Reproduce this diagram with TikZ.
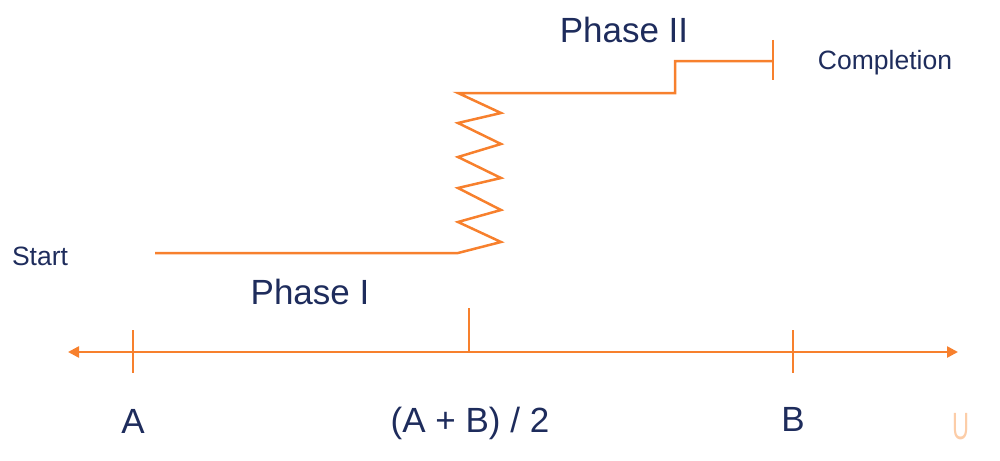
\documentclass[tikz,border=0pt]{standalone}
\usepackage{fontspec}
\setmainfont{Liberation Sans}
\usetikzlibrary{arrows.meta}
\definecolor{lineorange}{RGB}{247,128,45}
\definecolor{textnavy}{RGB}{30,44,92}
\definecolor{paleorange}{RGB}{252,205,168}
\begin{document}
\begin{tikzpicture}[x=1pt,y=-1pt,
  orangeline/.style={draw=lineorange,line width=2.5pt,line join=miter},
  bigtext/.style={text=textnavy,anchor=base,inner sep=0pt,font=\fontsize{35}{40}\selectfont},
  smalltext/.style={text=textnavy,anchor=base,inner sep=0pt,font=\fontsize{26.5}{30}\selectfont},
  tickmark/.style={draw=lineorange,line width=2.5pt}]
\useasboundingbox (0,0) rectangle (1000,460);
% axis
\coordinate (axL) at (68,352);
\coordinate (axR) at (958,352);
\draw[orangeline,{Triangle[length=11pt,width=11pt]}-{Triangle[length=11pt,width=11pt]}] (axL) -- (axR);
\coordinate (tA1) at (133,330); \coordinate (tA2) at (133,373);
\coordinate (tM1) at (469,308); \coordinate (tM2) at (469,352);
\coordinate (tB1) at (793,330); \coordinate (tB2) at (793,373);
\draw[tickmark] (tA1) -- (tA2);
\draw[tickmark] (tM1) -- (tM2);
\draw[tickmark] (tB1) -- (tB2);
% path
\coordinate (s0) at (155,253);
\coordinate (z0) at (458,253);
\coordinate (z10) at (458,93);
\coordinate (step1) at (675,93);
\coordinate (step2) at (675,61);
\coordinate (endp) at (773,61);
\coordinate (bar1) at (773,40);
\coordinate (bar2) at (773,80);
\draw[orangeline] (s0) -- (z0) -- (501,242) -- (458,222) -- (501,210) -- (458,188) -- (501,178) -- (458,157) -- (501,144) -- (458,123) -- (501,113) -- (z10) -- (step1) -- (step2) -- (endp);
\draw[tickmark] (bar1) -- (bar2);
% labels
\node[bigtext] (phI) at (310,304) {Phase I};
\node[bigtext] (phII) at (624,43) {Phase II};
\node[smalltext] (start) at (40,265) {Start};
\node[smalltext] (compl) at (885,69) {Completion};
\node[bigtext] (lA) at (133,433) {A};
\node[bigtext] (lM) at (470,432) {(A + B) / 2};
\node[bigtext] (lB) at (793,431) {B};
\node[text=paleorange,anchor=base,inner sep=0pt,font=\fontsize{38}{40}\selectfont,xscale=0.62] (lU) at (961,439) {U};
\end{tikzpicture}
\end{document}
